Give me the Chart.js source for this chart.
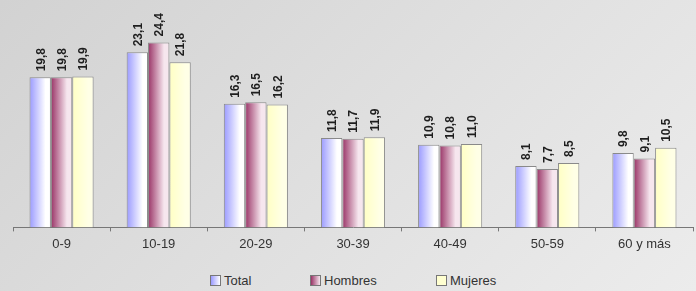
<!DOCTYPE html>
<html>
<head>
<meta charset="utf-8">
<script src="https://cdn.jsdelivr.net/npm/chart.js@4.4.1/dist/chart.umd.min.js"></script>
<style>
  body { margin: 0; font-family: "Liberation Sans", Arial, sans-serif; }
  #wrap {
    position: relative;
    width: 696px; height: 291px;
    background: linear-gradient(135deg, #d2d2d2 0%, #dedede 45%, #ececec 100%);
  }
  #grafico { position: absolute; left: 0; top: 0; }
  #leyenda { position: absolute; top: 272px; left: 0; width: 696px; height: 18px; }
  .item { position: absolute; top: 0; font-size: 13px; color: #333; line-height: 18px; }
  .caja {
    display: inline-block; width: 9px; height: 9px; border: 1px solid #777;
    vertical-align: -1px; margin-right: 3px;
  }
</style>
</head>
<body>
<div id="wrap">
  <canvas id="grafico" width="696" height="257"></canvas>
  <div id="leyenda"></div>
</div>
<script>
const categorias = ['0-9', '10-19', '20-29', '30-39', '40-49', '50-59', '60 y más'];
const total   = [19.8, 23.1, 16.3, 11.8, 10.9, 8.1, 9.8];
const hombres = [19.8, 24.4, 16.5, 11.7, 10.8, 7.7, 9.1];
const mujeres = [19.9, 21.8, 16.2, 11.9, 11.0, 8.5, 10.5];
const series = ['Total', 'Hombres', 'Mujeres'];

const CAT_PCT = 0.66;
const colores = [
  ['#9a9aff', '#ffffff'],
  ['#993366', '#f6e6ee'],
  ['#ffffc4', '#ffffe6']
];

function degradado(ctx) {
  const chart = ctx.chart;
  const x = chart.scales.x;
  const par = colores[ctx.datasetIndex];
  if (!x || !chart.chartArea) return par[0];
  const catW = chart.chartArea.width / categorias.length;
  const barW = catW * CAT_PCT / 3;
  const cx = x.getPixelForValue(ctx.dataIndex) + (ctx.datasetIndex - 1) * barW;
  const g = chart.ctx.createLinearGradient(cx - barW / 2, 0, cx + barW / 2, 0);
  g.addColorStop(0, par[0]);
  g.addColorStop(0.75, par[1]);
  g.addColorStop(1, par[1]);
  return g;
}

const etiquetas = {
  id: 'etiquetas',
  afterDatasetsDraw(chart) {
    const c = chart.ctx;
    c.save();
    c.font = 'bold 12px "Liberation Sans", Arial, sans-serif';
    c.fillStyle = '#1e1e1e';
    c.textAlign = 'left';
    c.textBaseline = 'middle';
    chart.data.datasets.forEach((ds, i) => {
      chart.getDatasetMeta(i).data.forEach((bar, j) => {
        const txt = ds.data[j].toFixed(1).replace('.', ',');
        c.save();
        c.translate(bar.x + 1, bar.y - 6);
        c.rotate(-Math.PI / 2);
        c.fillText(txt, 0, 0);
        c.restore();
      });
    });
    c.restore();
  }
};

function serie(label, data) {
  return {
    label: label,
    data: data,
    backgroundColor: degradado,
    borderColor: '#8a8a8a',
    borderWidth: 1,
    categoryPercentage: CAT_PCT,
    barPercentage: 1
  };
}

const ctx = document.getElementById('grafico').getContext('2d');
new Chart(ctx, {
  type: 'bar',
  data: {
    labels: categorias,
    datasets: [
      serie(series[0], total),
      serie(series[1], hombres),
      serie(series[2], mujeres)
    ]
  },
  options: {
    responsive: false,
    animation: false,
    layout: { padding: { left: 13, right: 3, top: 0, bottom: 0 } },
    scales: {
      x: {
        grid: {
          offset: true,
          drawOnChartArea: false,
          tickLength: 4,
          color: '#777'
        },
        border: { color: '#777' },
        ticks: {
          color: '#333',
          font: { family: '"Liberation Sans", Arial, sans-serif', size: 13 },
          padding: 5
        }
      },
      y: {
        display: false,
        min: 0,
        max: 30
      }
    },
    plugins: {
      legend: { display: false },
      tooltip: { enabled: false }
    }
  },
  plugins: [etiquetas]
});

// leyenda en HTML
const posLeyenda = [210, 310, 436];
const cajas = ['linear-gradient(90deg, #9a9aff, #ffffff)',
               'linear-gradient(90deg, #993366, #f6e6ee)',
               '#ffffd0'];
const ley = document.getElementById('leyenda');
series.forEach((s, i) => {
  const d = document.createElement('div');
  d.className = 'item';
  d.style.left = posLeyenda[i] + 'px';
  d.innerHTML = '<span class="caja" style="background:' + cajas[i] + '"></span>' + s;
  ley.appendChild(d);
});
</script>
</body>
</html>
